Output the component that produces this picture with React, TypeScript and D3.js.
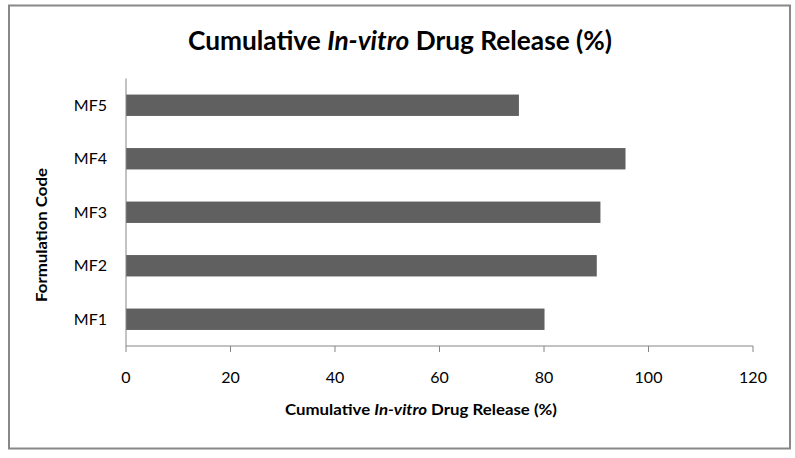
import React from "react";
import * as d3 from "d3";

const categories = ["MF1", "MF2", "MF3", "MF4", "MF5"];
const releaseValues = [80.1, 90.1, 90.8, 95.6, 75.2];
const xTicks = [0, 20, 40, 60, 80, 100, 120];

const W = 795;
const H = 458;
const FONT = "Lato, 'Open Sans', sans-serif";

export default function App() {
  const left = 126;
  const right = 753;
  const top = 78.5;
  const bottom = 346;

  const x = d3.scaleLinear().domain([0, 120]).range([left, right]);
  const y = d3
    .scaleBand<string>()
    .domain([...categories].reverse())
    .range([top, bottom])
    .paddingInner(0.6)
    .paddingOuter(0.3);

  const axisColor = "#868686";

  return (
    <svg
      width={W}
      height={H}
      style={{ position: "absolute", left: 0, top: 0, background: "#fff" }}
    >
      <rect x={0} y={0} width={W} height={H} fill="#fff" />
      <rect
        x={9}
        y={5.5}
        width={781}
        height={443}
        fill="none"
        stroke="#888"
        strokeWidth={2}
      />
      <text
        x={400}
        y={50}
        textAnchor="middle"
        fontFamily={FONT}
        fontWeight="bold"
        fontSize={26}
        textLength={424}
        lengthAdjust="spacingAndGlyphs"
        fill="#000"
      >
        Cumulative <tspan fontStyle="italic">In-vitro</tspan> Drug Release (%)
      </text>

      {categories.map((c, i) => (
        <rect
          key={c}
          x={x(0)}
          y={y(c)!}
          width={x(releaseValues[i]) - x(0)}
          height={y.bandwidth()}
          fill="#606060"
        />
      ))}

      {/* y axis */}
      <line x1={left} x2={left} y1={top} y2={bottom} stroke={axisColor} strokeWidth={1} />
      {categories.map((c) => (
        <text
          key={c}
          x={107}
          y={y(c)! + y.bandwidth() / 2}
          dy="0.35em"
          textAnchor="end"
          fontFamily={FONT}
          fontSize={16}
          fill="#000"
        >
          {c}
        </text>
      ))}

      {/* x axis */}
      <line x1={left} x2={right} y1={bottom} y2={bottom} stroke={axisColor} strokeWidth={1} />
      {xTicks.map((t) => (
        <g key={t}>
          <line x1={x(t)} x2={x(t)} y1={bottom} y2={bottom + 6} stroke={axisColor} />
          <text
            x={x(t)}
            y={377}
            dy="0.35em"
            textAnchor="middle"
            fontFamily={FONT}
            fontSize={16}
            fill="#000"
          >
            {t}
          </text>
        </g>
      ))}

      <text
        x={421}
        y={410}
        dy="0.35em"
        textAnchor="middle"
        fontFamily={FONT}
        fontWeight="bold"
        fontSize={15}
        textLength={272}
        lengthAdjust="spacingAndGlyphs"
        fill="#000"
      >
        Cumulative <tspan fontStyle="italic">In-vitro</tspan> Drug Release (%)
      </text>

      <text
        transform="translate(42,235) rotate(-90)"
        dy="0.35em"
        textAnchor="middle"
        fontFamily={FONT}
        fontWeight="bold"
        fontSize={15}
        textLength={134}
        lengthAdjust="spacingAndGlyphs"
        fill="#000"
      >
        Formulation Code
      </text>
    </svg>
  );
}
